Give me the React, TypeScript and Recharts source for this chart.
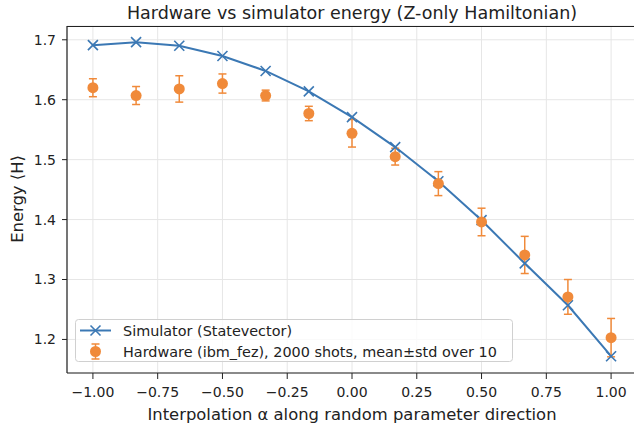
import React from 'react';
import {
  ComposedChart,
  Line,
  Scatter,
  ErrorBar,
  XAxis,
  YAxis,
  CartesianGrid,
} from 'recharts';

const alphas = [-1, -5 / 6, -4 / 6, -3 / 6, -2 / 6, -1 / 6, 0, 1 / 6, 2 / 6, 3 / 6, 4 / 6, 5 / 6, 1];
const simulatorEnergy = [1.691, 1.696, 1.69, 1.673, 1.648, 1.614, 1.571, 1.521, 1.464, 1.399, 1.327, 1.257, 1.172];
const hardwareMean = [1.62, 1.607, 1.618, 1.627, 1.607, 1.577, 1.544, 1.505, 1.46, 1.396, 1.341, 1.271, 1.203];
const hardwareStd = [0.015, 0.015, 0.022, 0.016, 0.009, 0.012, 0.023, 0.014, 0.02, 0.023, 0.031, 0.029, 0.032];

const xTicks = [-1, -0.75, -0.5, -0.25, 0, 0.25, 0.5, 0.75, 1];
const yTicks = [1.2, 1.3, 1.4, 1.5, 1.6, 1.7];

const BLUE = '#3b78b4';
const ORANGE = '#f08a3a';
const TEXT = '#222';
const FONT = '"DejaVu Sans", sans-serif';

const chartData = alphas.map((a, i) => ({
  a,
  sim: simulatorEnergy[i],
  hw: hardwareMean[i],
  err: hardwareStd[i],
}));

const fmt = (v: number, d: number) => v.toFixed(d).replace('-', '\u2212');

const XMark = (props: any) => {
  const { cx, cy } = props;
  if (cx == null || cy == null) return null;
  const s = 5;
  return (
    <g stroke={BLUE} strokeWidth={1.6}>
      <line x1={cx - s} y1={cy - s} x2={cx + s} y2={cy + s} />
      <line x1={cx - s} y1={cy + s} x2={cx + s} y2={cy - s} />
    </g>
  );
};

const Dot = (props: any) => {
  const { cx, cy } = props;
  if (cx == null || cy == null) return null;
  return <circle cx={cx} cy={cy} r={5.5} fill={ORANGE} />;
};

// title, axis labels, top spine and legend drawn on top of the chart
const Overlay = () => (
  <svg
    width={634}
    height={427}
    style={{ position: 'absolute', left: 0, top: 0, pointerEvents: 'none' }}
    fontFamily={FONT}
  >
    <line x1={67} y1={26.5} x2={634} y2={26.5} stroke={TEXT} strokeWidth={1.2} />
    <text x={352} y={19} textAnchor="middle" fontSize={17.5} fill={TEXT}>
      Hardware vs simulator energy (Z-only Hamiltonian)
    </text>
    <text x={352} y={419.5} textAnchor="middle" fontSize={16.4} fill={TEXT}>
      Interpolation α along random parameter direction
    </text>
    <text
      x={0}
      y={0}
      transform="translate(23,199) rotate(-90)"
      textAnchor="middle"
      fontSize={16.4}
      fill={TEXT}
    >
      Energy ⟨H⟩
    </text>

    <rect x={75.5} y={319.5} width={437} height={42} rx={3} fill="rgba(255,255,255,0.8)" stroke="#d0d0d0" />
    <line x1={80} y1={330.5} x2={111} y2={330.5} stroke={BLUE} strokeWidth={2} />
    <line x1={90.5} y1={325.5} x2={100.5} y2={335.5} stroke={BLUE} strokeWidth={1.6} />
    <line x1={90.5} y1={335.5} x2={100.5} y2={325.5} stroke={BLUE} strokeWidth={1.6} />
    <text x={123} y={335.5} fontSize={14.4} fill={TEXT}>
      Simulator (Statevector)
    </text>

    <line x1={95.5} y1={344} x2={95.5} y2={359} stroke={ORANGE} strokeWidth={1.5} />
    <line x1={91.5} y1={344} x2={99.5} y2={344} stroke={ORANGE} strokeWidth={1.5} />
    <line x1={91.5} y1={359} x2={99.5} y2={359} stroke={ORANGE} strokeWidth={1.5} />
    <circle cx={95.5} cy={351.5} r={5.5} fill={ORANGE} />
    <text x={123} y={356.5} fontSize={14.4} fill={TEXT}>
      Hardware (ibm_fez), 2000 shots, mean±std over 10
    </text>
  </svg>
);

export default function App() {
  return (
    <div style={{ width: 634, height: 427, overflow: 'hidden', position: 'relative', background: '#fff' }}>
      <style>{`body{margin:0}`}</style>
      <ComposedChart
        width={640}
        height={427}
        data={chartData}
        margin={{ top: 26, right: 3, bottom: 0, left: 0 }}
        style={{ fontFamily: FONT }}
      >
        <CartesianGrid stroke="#e6e6e6" strokeWidth={1} />
        <XAxis
          type="number"
          dataKey="a"
          domain={[-1.1, 1.1]}
          ticks={xTicks}
          tickFormatter={(v: number) => fmt(v, 2)}
          tick={{ fontSize: 14, fill: TEXT }}
          height={54}
          tickSize={6}
          tickMargin={8}
          tickLine={{ stroke: TEXT }}
          axisLine={{ stroke: TEXT, strokeWidth: 1.2 }}
          allowDataOverflow
        />
        <YAxis
          type="number"
          domain={[1.144, 1.723]}
          ticks={yTicks}
          tickFormatter={(v: number) => fmt(v, 1)}
          tick={{ fontSize: 14, fill: TEXT }}
          width={67}
          tickSize={5}
          tickMargin={6}
          tickLine={{ stroke: TEXT }}
          axisLine={{ stroke: TEXT, strokeWidth: 1.2 }}
          allowDataOverflow
        />
        <Line
          dataKey="sim"
          stroke={BLUE}
          strokeWidth={2}
          dot={<XMark />}
          activeDot={false}
          isAnimationActive={false}
        />
        <Scatter dataKey="hw" shape={<Dot />} fill={ORANGE} isAnimationActive={false}>
          <ErrorBar dataKey="err" direction="y" width={4} stroke={ORANGE} strokeWidth={1.5} />
        </Scatter>
      </ComposedChart>
      <Overlay />
    </div>
  );
}
